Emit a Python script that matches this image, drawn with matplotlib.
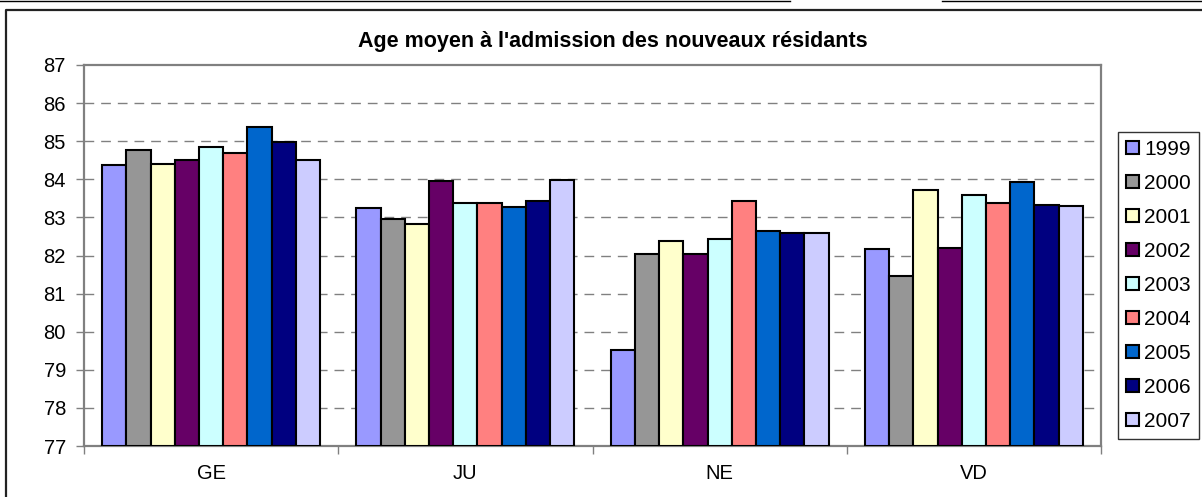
import matplotlib
matplotlib.use("Agg")
import matplotlib.pyplot as plt
import numpy as np
from matplotlib.lines import Line2D

plt.rcParams['font.family'] = ['Liberation Sans', 'DejaVu Sans']

categories = ["GE", "JU", "NE", "VD"]
years = ["1999", "2000", "2001", "2002", "2003", "2004", "2005", "2006", "2007"]
v1999 = [84.38, 83.24, 79.51, 82.16]
v2000 = [84.76, 82.97, 82.05, 81.46]
v2001 = [84.41, 82.82, 82.38, 83.72]
v2002 = [84.50, 83.96, 82.05, 82.20]
v2003 = [84.85, 83.39, 82.44, 83.59]
v2004 = [84.70, 83.37, 83.44, 83.37]
v2005 = [85.37, 83.28, 82.64, 83.92]
v2006 = [84.97, 83.43, 82.58, 83.32]
v2007 = [84.50, 83.97, 82.60, 83.30]
series = [v1999, v2000, v2001, v2002, v2003, v2004, v2005, v2006, v2007]
colors = ["#9999FF", "#969696", "#FFFFCC", "#660066", "#CCFFFF",
          "#FF8080", "#0066CC", "#000080", "#CCCCFF"]

W, H = 1202, 497
fig = plt.figure(figsize=(W / 100, H / 100), dpi=100)
fig.patch.set_facecolor("white")

px_l, px_r, px_t, px_b = 84, 1101, 65, 446
ax = fig.add_axes([px_l / W, 1 - px_b / H, (px_r - px_l) / W, (px_b - px_t) / H])

base = 77
x = np.arange(len(categories))
n = len(series)
bw = 1 / (n + 1.5)
for j, (vals, c, y) in enumerate(zip(series, colors, years)):
    pos = x + (j - (n - 1) / 2) * bw
    ax.bar(pos, np.array(vals) - base, bottom=base, width=bw, color=c,
           edgecolor="black", linewidth=1.5, label=y, zorder=3)

ax.set_xlim(-0.5, len(categories) - 0.5)
ax.set_ylim(77, 87)
ax.set_yticks(np.arange(77, 88, 1))
ax.tick_params(axis="y", direction="out", length=6, width=1, color="#808080",
               labelsize=14.5, pad=7)
ax.set_xticks(np.arange(-0.5, len(categories), 1))
ax.set_xticklabels([])
ax.set_xticks(x, minor=True)
ax.set_xticklabels(categories, minor=True)
ax.tick_params(axis="x", which="major", direction="out", length=6, width=1,
               color="#808080")
ax.tick_params(axis="x", which="minor", length=0, labelsize=14.5, pad=13)

for yv in range(78, 87):
    ax.axhline(yv, color="#808080", lw=1, linestyle=(0, (7, 5)), zorder=1)

for s in ax.spines.values():
    s.set_color("#808080")
    s.set_linewidth(1.6)

fig.text(613 / W, 1 - 47 / H, "Age moyen à l'admission des nouveaux résidants",
         ha="center", va="baseline", fontsize=15.5, fontweight="bold")

leg = fig.legend(loc="upper left", bbox_to_anchor=(1118 / W, 1 - 131.7 / H),
                 bbox_transform=fig.transFigure, borderaxespad=0,
                 fontsize=15, frameon=True, fancybox=False,
                 edgecolor="black", handlelength=0.6, handleheight=0.6,
                 handletextpad=0.25, labelspacing=0.72, borderpad=0.4)
leg.get_frame().set_linewidth(1.0)

# outer chart border and page lines
fig.add_artist(Line2D([5.5 / W, 5.5 / W, 1.0], [0, 1 - 10 / H, 1 - 10 / H],
                      transform=fig.transFigure, color="#222222", lw=1.6))
fig.add_artist(Line2D([0, 790 / W], [1 - 0.5 / H, 1 - 0.5 / H],
                      transform=fig.transFigure, color="black", lw=1))
fig.add_artist(Line2D([942 / W, 1.0], [1 - 0.5 / H, 1 - 0.5 / H],
                      transform=fig.transFigure, color="black", lw=1))

fig.savefig("out.png", dpi=100)
